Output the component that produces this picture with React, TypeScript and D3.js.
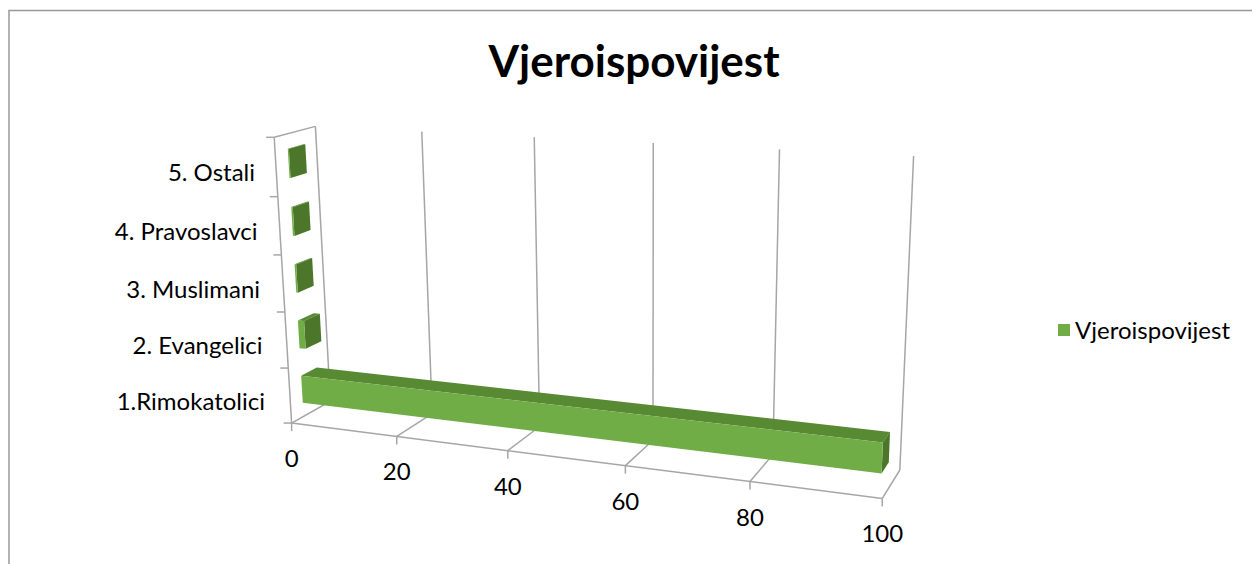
import React from "react";
import * as d3 from "d3";

// chart data
const categories = ["1.Rimokatolici", "2. Evangelici", "3. Muslimani", "4. Pravoslavci", "5. Ostali"];
const values = [99, 1.2, 0.3, 0.3, 0.2];
const valueTicks = [0, 20, 40, 60, 80, 100];
const seriesName = "Vjeroispovijest";
const title = "Vjeroispovijest";

const W = 1252;
const H = 564;

// where corners of the 3d plot box land on screen: [x(0..1), depth(0..1), height(0..1), px, py]
const boxAnchors = [
  [0, 0, 0, 292, 423],
  [1, 0, 0, 883, 498],
  [1, 1, 0, 900, 470],
  [0, 1, 0, 330, 401],
  [0, 0, 1, 274, 137],
  [0, 1, 1, 315, 127],
  [1, 1, 1, 914, 157],
  [0.2, 1, 1, 421, 132],
  [0.4, 1, 1, 536, 137],
  [0.6, 1, 1, 655, 143],
  [0.8, 1, 1, 777, 148],
  [0.2, 0, 0, 397, 436],
  [0.4, 0, 0, 508, 451],
  [0.6, 0, 0, 625, 466],
  [0.8, 0, 0, 749, 482],
];

// least squares fit of a 3x4 perspective matrix (DLT)
function fitProjection(pts: number[][]) {
  const A: number[][] = [];
  const b: number[] = [];
  pts.forEach(([X, Y, Z, u, v]) => {
    A.push([X, Y, Z, 1, 0, 0, 0, 0, -u * X, -u * Y, -u * Z]);
    b.push(u);
    A.push([0, 0, 0, 0, X, Y, Z, 1, -v * X, -v * Y, -v * Z]);
    b.push(v);
  });
  const n = 11;
  const M: number[][] = [];
  for (let i = 0; i < n; i++) {
    const row: number[] = [];
    for (let j = 0; j < n; j++) {
      let s = 0;
      A.forEach((r) => (s += r[i] * r[j]));
      row.push(s);
    }
    let s = 0;
    A.forEach((r, k) => (s += r[i] * b[k]));
    row.push(s);
    M.push(row);
  }
  for (let c = 0; c < n; c++) {
    let p = c;
    for (let r = c + 1; r < n; r++) if (Math.abs(M[r][c]) > Math.abs(M[p][c])) p = r;
    [M[c], M[p]] = [M[p], M[c]];
    for (let r = 0; r < n; r++) {
      if (r === c) continue;
      const f = M[r][c] / M[c][c];
      for (let k = c; k <= n; k++) M[r][k] -= f * M[c][k];
    }
  }
  return M.map((r, i) => r[n] / r[i]);
}

const P = fitProjection(boxAnchors);
function project(X: number, Y: number, Z: number): [number, number] {
  const w = P[8] * X + P[9] * Y + P[10] * Z + 1;
  return [
    (P[0] * X + P[1] * Y + P[2] * Z + P[3]) / w,
    (P[4] * X + P[5] * Y + P[6] * Z + P[7]) / w,
  ];
}

const x = d3.scaleLinear().domain([0, 100]).range([0, 1]);
const z = d3.scaleBand<string>().domain(categories).range([0, 1]).paddingInner(0.5).paddingOuter(0.25);
const depth0 = 0.3;
const depth1 = 0.7;

const line = d3.line();
const poly = (pts: [number, number][]) => line(pts) + "Z";
const seg = (a: [number, number], b: [number, number]) => line([a, b]) as string;

const grid = "#a6a6a6";
const font = "Lato, 'Open Sans', sans-serif";

export default function App() {
  const bars = categories.map((c, i) => {
    const x1 = x(values[i]);
    const z0 = z(c)!;
    const z1 = z0 + z.bandwidth();
    const front = poly([project(0, depth0, z0), project(x1, depth0, z0), project(x1, depth0, z1), project(0, depth0, z1)]);
    const top = poly([project(0, depth0, z1), project(x1, depth0, z1), project(x1, depth1, z1), project(0, depth1, z1)]);
    const end = poly([project(x1, depth0, z0), project(x1, depth1, z0), project(x1, depth1, z1), project(x1, depth0, z1)]);
    return { c, front, top, end };
  });

  const catTicks = d3.range(categories.length + 1).map((k) => k / categories.length);

  return (
    <svg width={W} height={H} style={{ position: "absolute", left: 0, top: 0, background: "#fff" }}>
      <rect x={9} y={10.5} width={W + 20} height={H + 20} fill="#fff" stroke="#999" strokeWidth={1.5} />
      <text x={634} y={77} textAnchor="middle" fontFamily={font} fontWeight="bold" fontSize={44} fill="#000">
        {title}
      </text>

      {/* floor and back wall gridlines */}
      <g stroke={grid} strokeWidth={1.5} fill="none">
        {valueTicks.map((t) => (
          <g key={t}>
            <path d={seg(project(x(t), 0, 0), project(x(t), 1, 0))} />
            <path d={seg(project(x(t), 1, 0), project(x(t), 1, 1))} />
            <path d={seg(project(x(t), 0, 0), [project(x(t), 0, 0)[0], project(x(t), 0, 0)[1] + 8])} />
          </g>
        ))}
        <path d={seg(project(0, 0, 0), project(1, 0, 0))} />
        <path d={seg(project(0, 0, 0), project(0, 0, 1))} />
        <path d={seg(project(0, 0, 1), project(0, 1, 1))} />
        {catTicks.map((t) => {
          const p = project(0, 0, t);
          return <path key={t} d={seg([p[0] - 8, p[1]], p)} />;
        })}
      </g>

      {/* bars */}
      {bars.map((b) => (
        <g key={b.c}>
          <path d={b.top} fill="#588a34" />
          <path d={b.end} fill="#4c7629" />
          <path d={b.front} fill="#70ad47" />
        </g>
      ))}

      {/* value labels */}
      {valueTicks.map((t) => {
        const p = project(x(t), 0, 0);
        return (
          <text key={t} x={p[0]} y={p[1] + 44} textAnchor="middle" fontFamily={font} fontSize={24} fill="#000">
            {t}
          </text>
        );
      })}

      {/* category labels */}
      {categories.map((c) => {
        const zc = z(c)! + z.bandwidth() / 2;
        const p = project(0, 0, zc);
        return (
          <text key={c} x={p[0] - 21 - (0.9 - zc) * 5} y={p[1] + 14} textAnchor="end" fontFamily={font} fontSize={24} fill="#000">
            {c}
          </text>
        );
      })}

      {/* legend */}
      <rect x={1058} y={324} width={12} height={12} fill="#70ad47" />
      <text x={1075} y={339} fontFamily={font} fontSize={24} fill="#000">
        {seriesName}
      </text>
    </svg>
  );
}
